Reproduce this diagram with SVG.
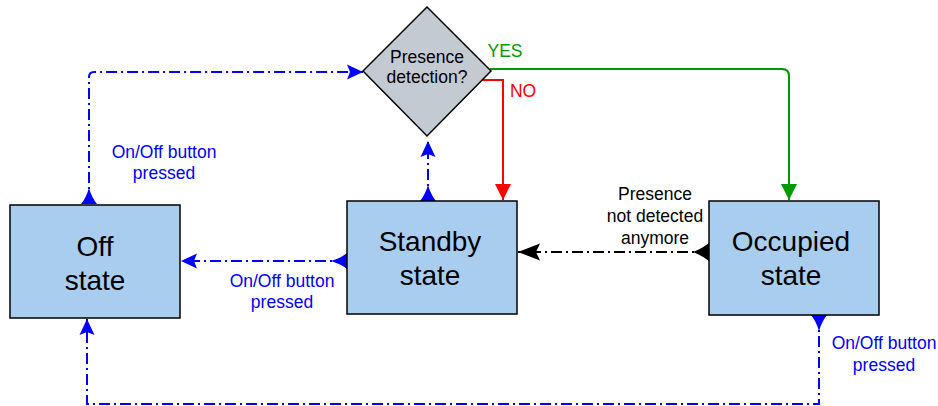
<svg xmlns="http://www.w3.org/2000/svg" width="938" height="406" viewBox="0 0 938 406">
<style>
.box{fill:#a9cdee;stroke:#000;stroke-width:1.5}
.dia{fill:#c4cad2;stroke:#000;stroke-width:1.5}
.big{font-family:"Liberation Sans",Arial,sans-serif;font-size:28px;fill:#000;text-anchor:middle}
.mid{font-family:"Liberation Sans",Arial,sans-serif;font-size:17.5px;text-anchor:middle}
.blue{fill:#0000ff}
.blk{fill:#000}
.bl{fill:none;stroke:#0000ff;stroke-width:2;stroke-dasharray:11 4 2 4}
.bk{fill:none;stroke:#000;stroke-width:2;stroke-dasharray:11 4 2 4}
</style>
<defs>
<marker id="bEnd" markerUnits="userSpaceOnUse" markerWidth="18" markerHeight="18" viewBox="0 -9 18 18" refX="16" refY="0" orient="auto"><path d="M0,-7.5 L16,0 L0,7.5 L3,0 z" fill="#0000ff"/></marker>
<marker id="bStart" markerUnits="userSpaceOnUse" markerWidth="18" markerHeight="18" viewBox="0 -9 18 18" refX="0" refY="0" orient="auto"><path d="M0,-8 Q6,-3 16,0 Q6,3 0,8 z" fill="#0000ff"/></marker>
<marker id="kEnd" markerUnits="userSpaceOnUse" markerWidth="24" markerHeight="20" viewBox="0 -10 24 20" refX="22" refY="0" orient="auto"><path d="M0,-8.5 L22,0 L0,8.5 L4,0 z" fill="#000"/></marker>
<marker id="kStart" markerUnits="userSpaceOnUse" markerWidth="18" markerHeight="20" viewBox="0 -10 18 20" refX="0" refY="0" orient="auto"><path d="M0,-9 Q6,-4 16,0 Q6,4 0,9 z" fill="#000"/></marker>
<marker id="gEnd" markerUnits="userSpaceOnUse" markerWidth="18" markerHeight="18" viewBox="0 -9 18 18" refX="16" refY="0" orient="auto"><path d="M0,-8 L16,0 L0,8 z" fill="#009900"/></marker>
<marker id="rEnd" markerUnits="userSpaceOnUse" markerWidth="18" markerHeight="18" viewBox="0 -9 18 18" refX="16" refY="0" orient="auto"><path d="M0,-8 L16,0 L0,8 z" fill="#ff0000"/></marker>
</defs>
<g id="connectors">
<path class="bl" d="M89,204 L89,77 Q89,72 94,72 L363,72" marker-start="url(#bStart)" marker-end="url(#bEnd)"/>
<path class="bl" d="M428,201 L428,141" marker-start="url(#bStart)" marker-end="url(#bEnd)"/>
<path class="bl" d="M347,261 L181,261" marker-start="url(#bStart)" marker-end="url(#bEnd)"/>
<path class="bk" d="M709,252 L518,252" marker-start="url(#kStart)" marker-end="url(#kEnd)"/>
<path class="bl" d="M819,315 L819,404 L87,404 L87,319" marker-start="url(#bStart)" marker-end="url(#bEnd)"/>
<path d="M490,69 L782,69 Q789,69 789,76 L789,200" fill="none" stroke="#009900" stroke-width="2" marker-end="url(#gEnd)"/>
<path d="M482,80 L503,80 L503,200" fill="none" stroke="#ff0000" stroke-width="2" marker-end="url(#rEnd)"/>
<text class="mid" x="505" y="57" fill="#009900">YES</text>
<text class="mid" x="523" y="97" fill="#ff0000">NO</text>
<text class="mid blue" x="164" y="158">On/Off button</text>
<text class="mid blue" x="164" y="179">pressed</text>
<text class="mid blue" x="282" y="287">On/Off button</text>
<text class="mid blue" x="282" y="308">pressed</text>
<text class="mid blue" x="884" y="349">On/Off button</text>
<text class="mid blue" x="884" y="371">pressed</text>
<text class="mid blk" x="655" y="200">Presence</text>
<text class="mid blk" x="655" y="222">not detected</text>
<text class="mid blk" x="655" y="244">anymore</text>
</g>
<g id="decision">
<polygon class="dia" points="427,7 491,71 427,136 363,71"/>
<text class="mid blk" x="427" y="63">Presence</text>
<text class="mid blk" x="427" y="83">detection?</text>
</g>
<g id="off">
<rect class="box" x="10" y="205" width="170" height="113"/>
<text class="big" x="95" y="256">Off</text>
<text class="big" x="95" y="290">state</text>
</g>
<g id="standby">
<rect class="box" x="347" y="201" width="170" height="113"/>
<text class="big" x="430" y="251">Standby</text>
<text class="big" x="430" y="285">state</text>
</g>
<g id="occupied">
<rect class="box" x="709" y="201" width="170" height="114"/>
<text class="big" x="791" y="251">Occupied</text>
<text class="big" x="791" y="285">state</text>
</g>
</svg>
